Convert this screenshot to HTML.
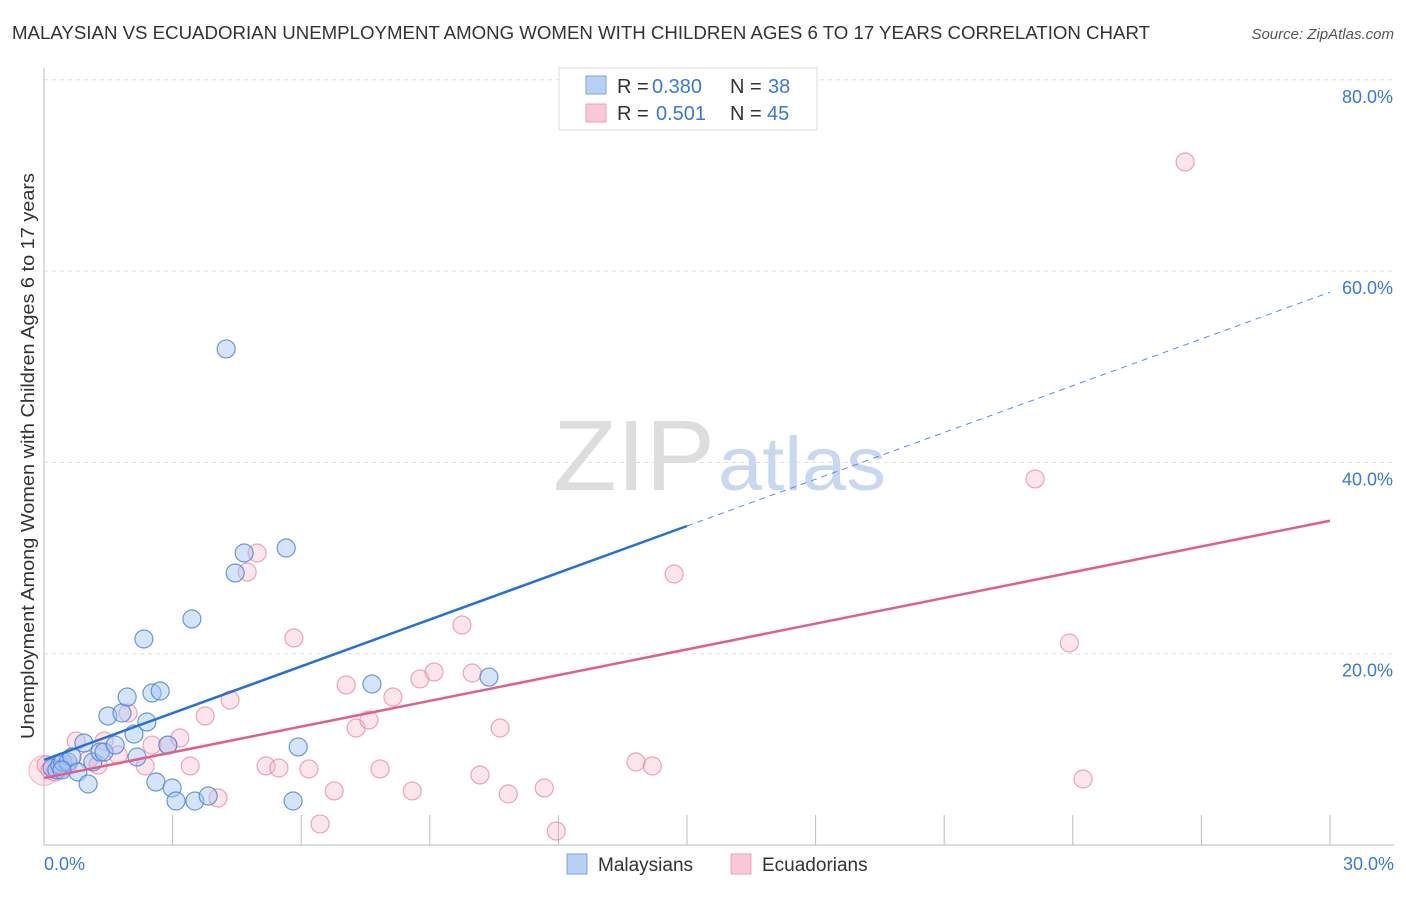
<!DOCTYPE html>
<html><head><meta charset="utf-8"><style>
body{margin:0;background:#fff;font-family:"Liberation Sans",sans-serif}
svg text{font-family:"Liberation Sans",sans-serif}
</style></head><body>
<svg width="1406" height="892" viewBox="0 0 1406 892">
<text x="12" y="39" font-size="18" fill="#333" textLength="1138" lengthAdjust="spacingAndGlyphs">MALAYSIAN VS ECUADORIAN UNEMPLOYMENT AMONG WOMEN WITH CHILDREN AGES 6 TO 17 YEARS CORRELATION CHART</text>
<text x="1394" y="39" font-size="15" fill="#555" font-style="italic" text-anchor="end">Source: ZipAtlas.com</text>
<g id="grid"></g>
<text x="553" y="490" font-size="100" font-family="Liberation Serif" fill="#ddd" textLength="162" lengthAdjust="spacingAndGlyphs">ZIP</text>
<text x="718" y="490" font-size="76" fill="#c8d8f0" textLength="168" lengthAdjust="spacingAndGlyphs">atlas</text>
<g id="points"></g>
<g id="trends"></g>
<text transform="translate(34,456) rotate(-90)" font-size="18" fill="#333" text-anchor="middle" textLength="566" lengthAdjust="spacingAndGlyphs">Unemployment Among Women with Children Ages 6 to 17 years</text>
<text x="44" y="870" font-size="18" fill="#3b78d8">0.0%</text>
<text x="1394" y="870" font-size="18" fill="#3b78d8" text-anchor="end">30.0%</text>
<g>
<rect x="559" y="68" width="258" height="62" fill="#fff" stroke="#ddd"/>
<rect x="586" y="76" width="20" height="18" fill="#b8d0f4" stroke="#7aa4e4"/>
<rect x="586" y="104" width="20" height="18" fill="#f9c8d6" stroke="#eca0b8"/>
<text x="617" y="93" font-size="20" fill="#333">R =</text>
<text x="652" y="93" font-size="20" fill="#3b78d8">0.380</text>
<text x="730" y="93" font-size="20" fill="#333">N =</text>
<text x="768" y="93" font-size="20" fill="#3b78d8">38</text>
<text x="617" y="120" font-size="20" fill="#333">R =</text>
<text x="656" y="120" font-size="20" fill="#3b78d8">0.501</text>
<text x="730" y="120" font-size="20" fill="#333">N =</text>
<text x="767" y="120" font-size="20" fill="#3b78d8">45</text>
</g>
<g>
<rect x="567" y="854" width="20" height="20" fill="#b8d0f4" stroke="#7aa4e4"/>
<text x="598" y="871" font-size="19" fill="#333">Malaysians</text>
<rect x="731" y="854" width="20" height="20" fill="#f9c8d6" stroke="#eca0b8"/>
<text x="762" y="871" font-size="19" fill="#333">Ecuadorians</text>
</g>
</svg>
<script>
const yTicks=[20,40,60,80];
const xTicks=[3,6,9,12,15,18,21,24,27,30];
const blueX=[0.19,0.30,0.37,0.44,0.56,0.65,0.79,0.93,1.03,1.14,1.31,1.40,1.49,1.66,1.82,1.94,2.10,2.17,2.33,2.40,2.52,2.61,2.71,2.89,2.99,3.08,3.45,3.52,3.83,4.25,4.46,4.67,5.65,5.81,5.93,7.65,10.38,0.42];
const blueY=[8.05,7.84,8.36,8.68,8.68,9.2,7.63,10.66,6.38,8.68,9.72,9.72,13.49,10.45,13.8,15.47,11.6,9.2,21.54,12.86,15.89,6.59,16.1,10.45,5.96,4.6,23.63,4.6,5.12,51.86,28.44,30.53,31.05,4.6,10.25,16.83,17.56,7.84];
const pinkX=[0.05,0.14,0.26,0.42,0.56,0.75,1.03,1.26,1.40,1.73,1.96,2.36,2.52,2.89,3.17,3.41,3.76,4.06,4.34,4.74,4.97,5.18,5.48,5.83,6.18,6.44,6.77,7.05,7.28,7.58,7.84,8.14,8.59,8.77,9.10,9.75,9.99,10.17,10.64,10.83,11.67,11.95,13.81,14.19,14.70,23.12,23.92,24.24,26.62];
const pinkY=[8.36,7.84,7.63,8.05,8.36,10.87,8.89,8.36,10.87,9.41,13.8,8.26,10.45,10.45,11.19,8.26,13.49,4.91,15.16,28.54,30.53,8.26,8.05,21.64,7.95,2.2,5.65,16.73,12.23,13.07,7.95,15.47,5.65,17.36,18.09,23.0,17.98,7.32,12.23,5.33,5.96,1.46,8.68,8.26,28.33,38.27,21.12,6.9,71.41];
const blueTrend=[8.9,57.8]; const blueSolidEnd=15.0;
const pinkTrend=[7.0,33.9];
const NS='http://www.w3.org/2000/svg';
const X=v=>44+v/30*1286, Y=v=>845-v/20*191.3;
function mk(t,a,p){const e=document.createElementNS(NS,t);for(const k in a)e.setAttribute(k,a[k]);p.appendChild(e);return e;}
const g=document.getElementById('grid');
yTicks.forEach(t=>{
 const l=mk('line',{x1:44,x2:1394,y1:Y(t),y2:Y(t),stroke:'#ddd','stroke-dasharray':'4,4'},g);
 
 
 const tx=mk('text',{x:1393,y:Y(t)+23,'font-size':18,fill:'#3b78d8','text-anchor':'end'},g);
 tx.textContent=t.toFixed(1)+'%';
 
 
});
xTicks.forEach(t=>{
 const l=mk('line',{x1:X(t),x2:X(t),y1:815,y2:845,stroke:'#bbb'},g);
 
 
});
const ax=mk('path',{d:'M44,68V845H1394',fill:'none',stroke:'#bbb'},g);


const pg=document.getElementById('points');
const big=mk('circle',{cx:X(0),cy:Y(7.8),r:15,fill:'rgba(248,180,200,0.35)',stroke:'rgba(232,138,168,0.6)'},pg);


pinkX.forEach((x,i)=>{
 const c=mk('circle',{cx:X(x),cy:Y(pinkY[i]),r:9,fill:'rgba(248,180,200,0.35)',stroke:'rgba(232,128,160,0.7)','stroke-width':1.2},pg);
 
 
});
blueX.forEach((x,i)=>{
 const c=mk('circle',{cx:X(x),cy:Y(blueY[i]),r:9,fill:'rgba(164,196,244,0.45)',stroke:'rgba(70,130,220,0.8)','stroke-width':1.2},pg);
 
 
});
const tg=document.getElementById('trends');
const by=x=>blueTrend[0]+(blueTrend[1]-blueTrend[0])*x/30;
const b1=mk('line',{x1:X(0),y1:Y(by(0)),x2:X(blueSolidEnd),y2:Y(by(blueSolidEnd)),stroke:'#2a6fd6','stroke-width':2.5},tg);


const b2=mk('line',{x1:X(blueSolidEnd),y1:Y(by(blueSolidEnd)),x2:X(30),y2:Y(by(30)),stroke:'#5b8fdc','stroke-width':1,'stroke-dasharray':'6,5'},tg);


const p1=mk('line',{x1:X(0),y1:Y(pinkTrend[0]),x2:X(30),y2:Y(pinkTrend[1]),stroke:'#e0608a','stroke-width':2.5},tg);


</script>
</body></html>
